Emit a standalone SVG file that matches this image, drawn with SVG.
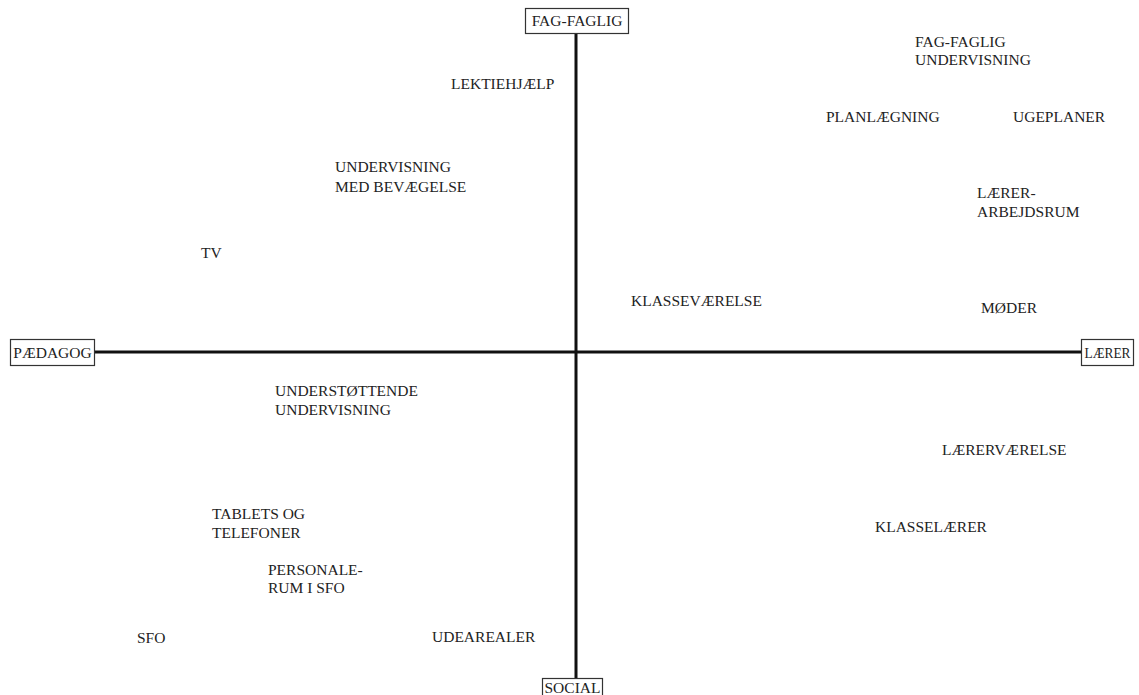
<svg xmlns="http://www.w3.org/2000/svg" width="1139" height="695" viewBox="0 0 1139 695">
  <style>
    .axis { stroke: #111; stroke-width: 3; fill: none; }
    .box { fill: #fff; stroke: #333; stroke-width: 1.2; }
    text { font-family: "Liberation Serif", "Times New Roman", serif; font-size: 15.5px; fill: #222; }
    .pole { text-anchor: middle; }
  </style>
  <rect width="1139" height="695" fill="#fff"/>

  <g id="connectors">
    <line class="axis" x1="576" y1="33" x2="576" y2="678"/>
    <line class="axis" x1="95" y1="352" x2="1082" y2="352"/>
  </g>

  <g id="pole-fag-faglig">
    <rect class="box" x="525.5" y="8.5" width="103" height="25"/>
    <text class="pole" x="577" y="26">FAG-FAGLIG</text>
  </g>
  <g id="pole-paedagog">
    <rect class="box" x="10.5" y="339.5" width="84" height="26"/>
    <text class="pole" x="52.5" y="357.5">PÆDAGOG</text>
  </g>
  <g id="pole-laerer">
    <rect class="box" x="1081.5" y="339.5" width="52" height="26"/>
    <text class="pole" x="1107.5" y="357.5" textLength="46" lengthAdjust="spacingAndGlyphs">LÆRER</text>
  </g>
  <g id="pole-social">
    <rect class="box" x="542.5" y="678.5" width="60" height="25"/>
    <text class="pole" x="572.5" y="693">SOCIAL</text>
  </g>

  <g id="lektiehjaelp"><text x="451" y="89">LEKTIEHJÆLP</text></g>
  <g id="undervisning-med-bevaegelse">
    <text x="335" y="172">UNDERVISNING</text>
    <text x="335" y="192">MED BEVÆGELSE</text>
  </g>
  <g id="tv"><text x="201" y="258">TV</text></g>
  <g id="klassevaerelse"><text x="631" y="306">KLASSEVÆRELSE</text></g>
  <g id="fag-faglig-undervisning">
    <text x="915" y="47">FAG-FAGLIG</text>
    <text x="915" y="65">UNDERVISNING</text>
  </g>
  <g id="planlaegning"><text x="826" y="122">PLANLÆGNING</text></g>
  <g id="ugeplaner"><text x="1013" y="122">UGEPLANER</text></g>
  <g id="laerer-arbejdsrum">
    <text x="977" y="198">LÆRER-</text>
    <text x="977" y="217">ARBEJDSRUM</text>
  </g>
  <g id="moeder"><text x="981" y="313">MØDER</text></g>
  <g id="understoettende-undervisning">
    <text x="275" y="396">UNDERSTØTTENDE</text>
    <text x="275" y="415">UNDERVISNING</text>
  </g>
  <g id="laerervaerelse"><text x="942" y="455">LÆRERVÆRELSE</text></g>
  <g id="tablets-og-telefoner">
    <text x="212" y="519">TABLETS OG</text>
    <text x="212" y="538">TELEFONER</text>
  </g>
  <g id="klasselaerer"><text x="875" y="532">KLASSELÆRER</text></g>
  <g id="personalerum-i-sfo">
    <text x="268" y="575">PERSONALE-</text>
    <text x="268" y="593">RUM I SFO</text>
  </g>
  <g id="sfo"><text x="137" y="643">SFO</text></g>
  <g id="udearealer"><text x="432" y="642">UDEAREALER</text></g>
</svg>
